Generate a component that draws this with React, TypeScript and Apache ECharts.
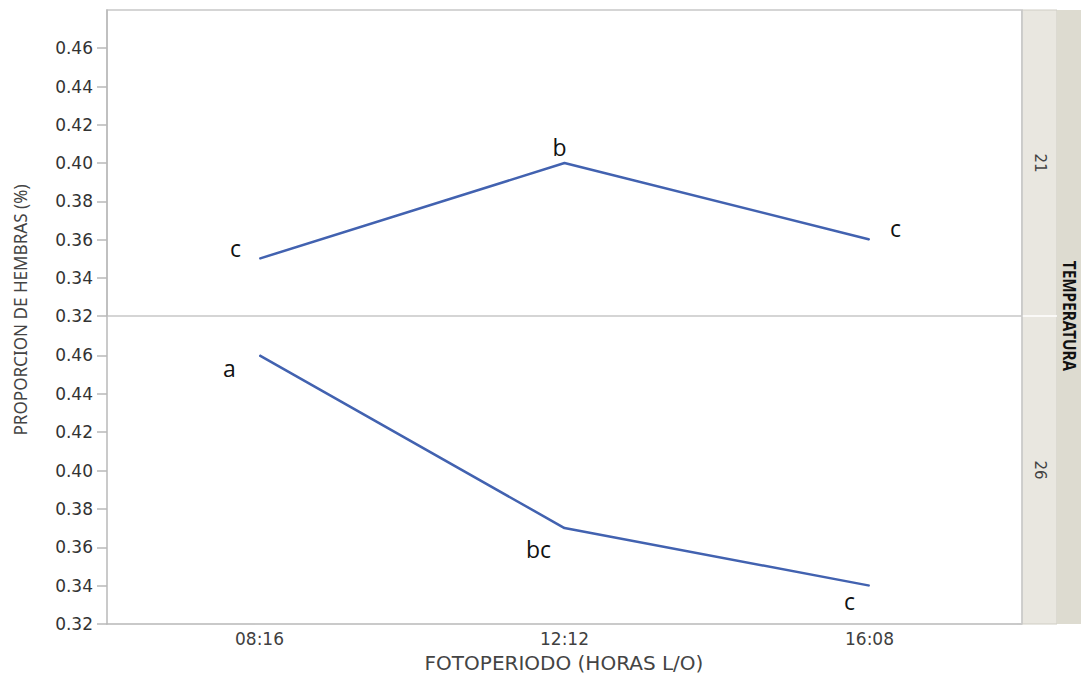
import React, { useEffect, useRef } from "react";
import * as echarts from "echarts";

const categories = ["08:16", "12:12", "16:08"];
const upperValues = [0.35, 0.4, 0.36]; // TEMPERATURA 21
const lowerValues = [0.46, 0.37, 0.34]; // TEMPERATURA 26
const upperLetters = ["c", "b", "c"];
const lowerLetters = ["a", "bc", "c"];
const tickValues = [0.32, 0.34, 0.36, 0.38, 0.4, 0.42, 0.44, 0.46];
const panelLabels = ["21", "26"];
const yTitle = "PROPORCION DE HEMBRAS (%)";
const xTitle = "FOTOPERIODO (HORAS L/O)";
const stripTitle = "TEMPERATURA";

const upperOffsets = [[-24, -11], [-5, -16], [26, -12]];
const lowerOffsets = [[-30, 13], [-26, 21], [-20, 15]];

const LINE = "#4262b0";
const AXIS = "#b8b8b8";

function yAxisCfg(gridIndex: number) {
  return {
    gridIndex,
    type: "value",
    min: 0.32,
    max: 0.48,
    interval: 0.02,
    axisLine: { show: true, lineStyle: { color: AXIS, width: 1.5 } },
    axisTick: { show: true, length: 10, customValues: tickValues, lineStyle: { color: AXIS, width: 1.5 } },
    axisLabel: {
      customValues: tickValues,
      formatter: (v: number) => v.toFixed(2),
      color: "#333",
      fontSize: 17,
      fontFamily: "DejaVu Sans",
      margin: 14,
    },
    splitLine: { show: false },
  };
}

function seriesCfg(idx: number, values: number[], letters: string[], offsets: number[][]) {
  return {
    type: "line",
    xAxisIndex: idx,
    yAxisIndex: idx,
    symbol: "circle",
    symbolSize: 1,
    showSymbol: true,
    itemStyle: { color: LINE },
    lineStyle: { color: LINE, width: 2.5 },
    data: values.map((v, i) => ({
      value: v,
      label: {
        show: true,
        position: "inside",
        formatter: letters[i],
        offset: offsets[i],
        color: "#111",
        fontSize: 23,
        fontFamily: "Open Sans",
      },
    })),
  };
}

export default function App() {
  const ref = useRef<HTMLDivElement>(null);
  useEffect(() => {
    if (!ref.current) return;
    const chart = echarts.init(ref.current, undefined, { renderer: "svg" });
    const option: any = {
      animation: false,
      backgroundColor: "#fff",
      grid: [
        { left: 107, right: 59, top: 10, height: 306, show: true, borderColor: "#c8c8c8", borderWidth: 1.5 },
        { left: 107, right: 59, top: 317, height: 307 },
      ],
      xAxis: [
        { gridIndex: 0, type: "category", data: categories, axisLine: { show: false }, axisTick: { show: false }, axisLabel: { show: false } },
        {
          gridIndex: 1,
          type: "category",
          data: categories,
          axisLine: { show: true, lineStyle: { color: AXIS, width: 1.5 } },
          axisTick: { show: false },
          axisLabel: { color: "#404040", fontSize: 17, fontFamily: "DejaVu Sans", margin: 6 },
        },
      ],
      yAxis: [yAxisCfg(0), yAxisCfg(1)],
      series: [
        seriesCfg(0, upperValues, upperLetters, upperOffsets),
        seriesCfg(1, lowerValues, lowerLetters, lowerOffsets),
      ],
      graphic: [
        { type: "rect", shape: { x: 1022, y: 10, width: 35, height: 614 }, style: { fill: "#e9e7e0", stroke: "#cfcdc4", lineWidth: 1 }, z: 10 },
        { type: "rect", shape: { x: 1057, y: 10, width: 30, height: 614 }, style: { fill: "#dddbd0" }, z: 10 },
        { type: "line", shape: { x1: 1022, y1: 316, x2: 1057, y2: 316 }, style: { stroke: "#ffffff", lineWidth: 1.5 }, z: 11 },
        { type: "line", shape: { x1: 1022, y1: 10, x2: 1022, y2: 624 }, style: { stroke: "#c8c8c8", lineWidth: 1.5 }, z: 11 },
        {
          type: "text", x: 1040, y: 163, rotation: -Math.PI / 2, z: 12,
          style: { text: panelLabels[0], fill: "#444", fontSize: 15, fontFamily: "DejaVu Sans", align: "center", verticalAlign: "middle" },
        },
        {
          type: "text", x: 1040, y: 470, rotation: -Math.PI / 2, z: 12,
          style: { text: panelLabels[1], fill: "#444", fontSize: 15, fontFamily: "DejaVu Sans", align: "center", verticalAlign: "middle" },
        },
        {
          type: "text", x: 1069, y: 316, rotation: -Math.PI / 2, scaleX: 0.9, z: 12,
          style: { text: stripTitle, fill: "#111", fontSize: 17, fontWeight: "bold", fontFamily: "Noto Sans", align: "center", verticalAlign: "middle" },
        },
        {
          type: "text", x: 20, y: 310, rotation: Math.PI / 2, scaleX: 0.95, z: 12,
          style: { text: yTitle, fill: "#444", fontSize: 18, fontFamily: "Noto Sans", align: "center", verticalAlign: "middle" },
        },
        {
          type: "text", x: 564, y: 663, z: 12,
          style: { text: xTitle, fill: "#444", fontSize: 20, fontFamily: "DejaVu Sans", align: "center", verticalAlign: "middle" },
        },
      ],
    };
    chart.setOption(option);
    return () => chart.dispose();
  }, []);
  return <div ref={ref} style={{ width: 1081, height: 679, position: "absolute", left: 0, top: 0 }} />;
}
